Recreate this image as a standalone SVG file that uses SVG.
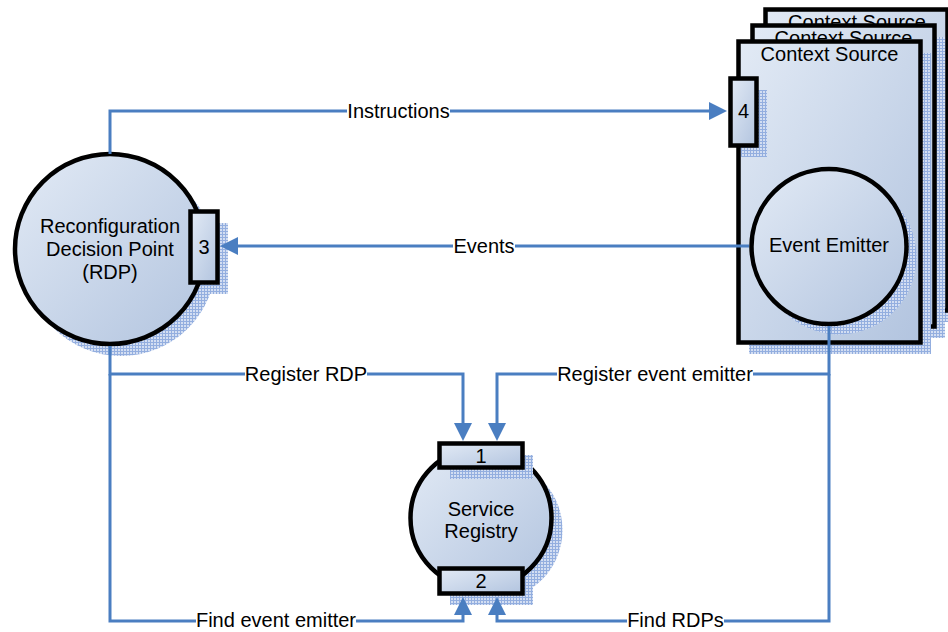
<svg xmlns="http://www.w3.org/2000/svg" width="948" height="632" viewBox="0 0 948 632">
  <defs>
    <linearGradient id="fillGrad" x1="0" y1="0" x2="1" y2="1">
      <stop offset="0" stop-color="#e2eaf5"/>
      <stop offset="1" stop-color="#b2c4df"/>
    </linearGradient>
    <pattern id="mesh" width="3" height="3" patternUnits="userSpaceOnUse">
      <rect width="3" height="3" fill="#d3def2"/>
      <rect width="3" height="1" fill="#93aedf"/>
      <rect width="1" height="3" fill="#93aedf"/>
    </pattern>
    <marker id="arrow" markerUnits="userSpaceOnUse" viewBox="0 0 18 18" markerWidth="18" markerHeight="18" refX="8" refY="9" orient="auto">
      <path d="M0,0 L18,9 L0,18 Z" fill="#4a7ec1"/>
    </marker>
    <style>
      .shape { fill: url(#fillGrad); stroke: #000; stroke-width: 4.5; }
      .shadow { fill: url(#mesh); stroke: none; }
      .txt { font-family: "Liberation Sans", Arial, sans-serif; font-size: 20px; fill: #000; text-anchor: middle; }
      .conn { fill: none; stroke: #4a7ec1; stroke-width: 3; }
      .gap { fill: #fff; }
    </style>
  </defs>

  <!-- Context Source stack (back to front) -->
  <g id="context-source-3">
    <rect class="shadow" x="776" y="21" width="182" height="301"/>
    <rect class="shape" x="765.5" y="9.5" width="182" height="301"/>
    <text class="txt" x="857" y="29">Context Source</text>
  </g>
  <g id="context-source-2">
    <rect class="shadow" x="763" y="37" width="182" height="301"/>
    <rect class="shape" x="752.5" y="25.5" width="182" height="301"/>
    <text class="txt" x="843.5" y="45">Context Source</text>
  </g>
  <g id="context-source-1">
    <rect class="shadow" x="749" y="53" width="182" height="301"/>
    <rect class="shape" x="738.5" y="41.5" width="182" height="301"/>
    <text class="txt" x="829.5" y="61">Context Source</text>
  </g>

  <!-- Input port 4 on the front Context Source -->
  <g id="port-4">
    <rect class="shadow" x="741" y="90" width="26" height="67"/>
    <rect class="shape" x="730.5" y="78.5" width="26" height="67"/>
    <text class="txt" x="743.5" y="118">4</text>
  </g>

  <!-- Event Emitter -->
  <g id="event-emitter">
    <circle class="shadow" cx="839" cy="257" r="77.5"/>
    <circle class="shape" cx="829" cy="246.5" r="77.5"/>
    <text class="txt" x="829" y="252">Event Emitter</text>
  </g>

  <!-- Reconfiguration Decision Point -->
  <g id="rdp">
    <circle class="shadow" cx="121" cy="261" r="95"/>
    <circle class="shape" cx="110" cy="249" r="95"/>
    <text class="txt" x="110" y="233">Reconfiguration</text>
    <text class="txt" x="110" y="256">Decision Point</text>
    <text class="txt" x="110" y="279">(RDP)</text>
  </g>
  <g id="port-3">
    <rect class="shadow" x="201" y="223" width="27" height="71"/>
    <rect class="shape" x="190.5" y="211.5" width="27" height="71"/>
    <text class="txt" x="204" y="254">3</text>
  </g>

  <!-- Service Registry -->
  <g id="service-registry">
    <circle class="shadow" cx="492" cy="530" r="70.5"/>
    <circle class="shape" cx="481" cy="518" r="70.5"/>
    <text class="txt" x="481" y="516">Service</text>
    <text class="txt" x="481" y="538">Registry</text>
  </g>
  <g id="port-1">
    <rect class="shadow" x="450" y="455" width="83" height="24"/>
    <rect class="shape" x="439.5" y="443.5" width="83" height="24"/>
    <text class="txt" x="481" y="463">1</text>
  </g>
  <g id="port-2">
    <rect class="shadow" x="450" y="580" width="83" height="25"/>
    <rect class="shape" x="439.5" y="568.5" width="83" height="25"/>
    <text class="txt" x="481" y="588">2</text>
  </g>

  <!-- Connectors -->
  <g id="connectors">
    <polyline class="conn" points="110,154 110,111 717,111" marker-end="url(#arrow)"/>
    <polyline class="conn" points="749,246 230,246" marker-end="url(#arrow)"/>
    <polyline class="conn" points="110,346 110,374 463,374 463,431" marker-end="url(#arrow)"/>
    <polyline class="conn" points="829,326 829,374 497,374 497,431" marker-end="url(#arrow)"/>
    <polyline class="conn" points="110,374 110,621 463,621 463,607" marker-end="url(#arrow)"/>
    <polyline class="conn" points="829,374 829,621 497,621 497,607" marker-end="url(#arrow)"/>

    <rect class="gap" x="347" y="100" width="103" height="22"/>
    <text class="txt" x="398.5" y="118">Instructions</text>
    <rect class="gap" x="453" y="235" width="62" height="22"/>
    <text class="txt" x="484" y="253">Events</text>
    <rect class="gap" x="245" y="363" width="122" height="22"/>
    <text class="txt" x="306" y="381">Register RDP</text>
    <rect class="gap" x="557" y="363" width="196" height="22"/>
    <text class="txt" x="655" y="381">Register event emitter</text>
    <rect class="gap" x="196" y="610" width="160" height="22"/>
    <text class="txt" x="276" y="627">Find event emitter</text>
    <rect class="gap" x="627" y="610" width="97" height="22"/>
    <text class="txt" x="675.5" y="627">Find RDPs</text>
  </g>
</svg>
